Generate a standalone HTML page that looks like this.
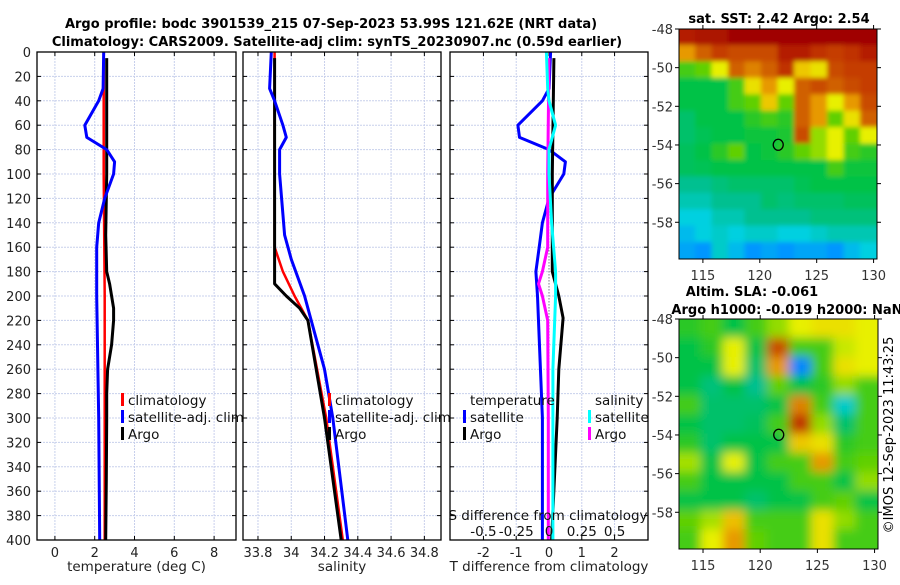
<!DOCTYPE html>
<html><head><meta charset="utf-8"><style>
html,body{margin:0;padding:0;background:#fff;}
svg text{font-family:"DejaVu Sans","Liberation Sans",sans-serif;}
</style></head><body>
<svg id="fig" width="900" height="580" xmlns="http://www.w3.org/2000/svg">
<defs>
<filter id="blur1" x="679" y="29" width="198" height="230" filterUnits="userSpaceOnUse"><feGaussianBlur stdDeviation="2.5"/></filter>
<filter id="blur2" x="679" y="319" width="199" height="230" filterUnits="userSpaceOnUse"><feGaussianBlur stdDeviation="5"/></filter>
<clipPath id="clipm1"><rect x="679" y="29" width="198" height="230"/></clipPath>
<clipPath id="clipm2"><rect x="679" y="319" width="199" height="230"/></clipPath>
</defs>
<g id="titles">
<text x="331" y="28" font-size="13" font-weight="bold" text-anchor="middle">Argo profile: bodc 3901539_215 07-Sep-2023 53.99S 121.62E (NRT data)</text>
<text x="337" y="46" font-size="13" font-weight="bold" text-anchor="middle">Climatology: CARS2009. Satellite-adj clim: synTS_20230907.nc (0.59d earlier)</text>
<text x="779" y="23" font-size="13" font-weight="bold" text-anchor="middle">sat. SST: 2.42 Argo: 2.54</text>
<text x="752" y="296" font-size="13" font-weight="bold" text-anchor="middle">Altim. SLA: -0.061</text>
<text x="787" y="314" font-size="13" font-weight="bold" text-anchor="middle">Argo h1000: -0.019 h2000: NaN</text>
<text transform="translate(893,435) rotate(-90)" font-size="13" text-anchor="middle">©IMOS 12-Sep-2023 11:43:25</text>
</g>
<g id="panels"></g>
<g id="maps"></g>
</svg>
<script>
// ---------- profile data ----------
const depthTicks = [0,20,40,60,80,100,120,140,160,180,200,220,240,260,280,300,320,340,360,380,400];
const tempTicks = [0,2,4,6,8];
const salTicks = [33.8,34,34.2,34.4,34.6,34.8];
const salTickLabels = ["33.8","34","34.2","34.4","34.6","34.8"];
const tdiffTicks = [-2,-1,0,1,2];
const sdiffTicks = [-0.5,-0.25,0,0.25,0.5];

const tArgoDepth = [5,50,100,150,180,190,200,210,220,240,260,280,300,350,400];
const tArgo      = [2.6,2.6,2.6,2.55,2.6,2.75,2.85,2.95,2.95,2.85,2.65,2.6,2.6,2.58,2.55];
const tClimDepth = [0,100,200,300,400];
const tClim      = [2.45,2.45,2.5,2.5,2.5];
const tSatDepth  = [0,30,40,60,70,80,90,100,120,140,160,200,300,400];
const tSat       = [2.45,2.42,2.2,1.5,1.6,2.6,3.0,2.95,2.5,2.2,2.1,2.1,2.2,2.25];

const sArgoDepth = [5,100,160,190,200,210,220,300,400];
const sArgo      = [33.9,33.9,33.9,33.9,33.97,34.05,34.1,34.2,34.3];
const sClimDepth = [0,160,180,200,220,300,400];
const sClim      = [33.9,33.9,33.95,34.02,34.1,34.21,34.31];
const sSatDepth  = [0,30,40,60,70,80,100,150,170,200,220,260,300,400];
const sSat       = [33.88,33.87,33.9,33.95,33.97,33.93,33.93,33.96,34.0,34.08,34.12,34.2,34.25,34.34];

const dTSatDepth = [0,30,40,60,70,80,90,100,120,140,160,180,200,300,400];
const dTSat      = [0.05,0.0,-0.2,-0.95,-0.9,0.0,0.5,0.45,0.0,-0.2,-0.3,-0.4,-0.35,-0.2,-0.2];
const dTArgoDepth = [5,100,180,200,218,260,300,400];
const dTArgo      = [0.15,0.1,0.1,0.3,0.43,0.3,0.25,0.08];
const dSSatDepth = [0,30,40,60,80,100,140,180,200,260,300,400];
const dSSat      = [-0.02,-0.01,0.0,0.05,0.0,0.0,0.02,0.05,0.05,0.03,0.03,0.03];
const dSArgoDepth = [5,100,160,180,190,200,220,300,400];
const dSArgo      = [0.0,-0.01,-0.01,-0.05,-0.08,-0.05,-0.01,-0.005,-0.005];

// ---------- map data ----------
const sstGrid = [
[0.95,0.97,0.97,1,1,1,1,1,1,1,1,1],
[0.8,0.85,0.9,0.88,0.88,0.88,0.95,0.95,0.92,0.9,0.92,0.95],
[0.6,0.62,0.7,0.85,0.82,0.85,0.92,0.75,0.72,0.88,0.9,0.9],
[0.55,0.55,0.55,0.6,0.72,0.8,0.7,0.85,0.88,0.85,0.88,0.9],
[0.55,0.55,0.55,0.6,0.62,0.75,0.62,0.85,0.8,0.7,0.8,0.88],
[0.5,0.55,0.55,0.55,0.58,0.6,0.58,0.85,0.8,0.62,0.72,0.85],
[0.5,0.53,0.55,0.55,0.56,0.56,0.57,0.88,0.65,0.7,0.62,0.7],
[0.52,0.55,0.58,0.62,0.55,0.56,0.58,0.62,0.65,0.7,0.6,0.58],
[0.52,0.53,0.55,0.55,0.55,0.55,0.55,0.55,0.55,0.6,0.56,0.56],
[0.45,0.45,0.48,0.5,0.5,0.5,0.5,0.53,0.55,0.55,0.55,0.55],
[0.42,0.42,0.45,0.45,0.45,0.5,0.48,0.5,0.5,0.5,0.52,0.52],
[0.38,0.38,0.42,0.42,0.45,0.45,0.45,0.45,0.48,0.48,0.48,0.48],
[0.35,0.38,0.4,0.38,0.4,0.4,0.38,0.38,0.4,0.42,0.42,0.42],
[0.32,0.3,0.4,0.35,0.3,0.32,0.3,0.32,0.32,0.3,0.35,0.38]];
const slaGrid = [
[0.58,0.6,0.55,0.6,0.65,0.7,0.72,0.72,0.7],
[0.55,0.58,0.7,0.55,0.88,0.6,0.6,0.68,0.7],
[0.55,0.55,0.7,0.5,0.8,0.25,0.6,0.72,0.7],
[0.55,0.48,0.55,0.45,0.62,0.55,0.58,0.65,0.6],
[0.6,0.5,0.5,0.5,0.55,0.82,0.6,0.4,0.6],
[0.55,0.5,0.5,0.52,0.6,0.92,0.65,0.5,0.6],
[0.58,0.5,0.55,0.55,0.55,0.75,0.72,0.58,0.6],
[0.66,0.55,0.7,0.55,0.6,0.6,0.8,0.6,0.62],
[0.6,0.55,0.55,0.55,0.55,0.6,0.6,0.55,0.65],
[0.55,0.55,0.55,0.5,0.55,0.55,0.6,0.62,0.55],
[0.62,0.66,0.76,0.6,0.6,0.6,0.72,0.65,0.6],
[0.6,0.7,0.8,0.62,0.6,0.6,0.72,0.6,0.6]];
const lonTicks = [115,120,125,130];
const latTicks = [-48,-50,-52,-54,-56,-58];
const argoLon = 121.62, argoLat = -53.99;

const NS = "http://www.w3.org/2000/svg";
function mk(tag, attrs, parent){const e=document.createElementNS(NS,tag);for(const k in attrs)e.setAttribute(k,attrs[k]);parent.appendChild(e);return e;}
const panels = document.getElementById('panels');
const Y0=52, Y1=540;
const yScale = d => Y0 + (Y1-Y0)*d/400;

function panel(name, x0, x1, dmin, dmax, ticks, labels, xlabel, showY){
  const xs = v => x0 + (x1-x0)*(v-dmin)/(dmax-dmin);
  const g = mk('g',{},panels);
  
  
  depthTicks.forEach(d=>{ if(d>0&&d<400){const l=mk('line',{x1:x0,x2:x1,y1:yScale(d),y2:yScale(d),stroke:'#c8d0ec','stroke-width':1,'stroke-dasharray':'2,1'},g);
     }});
  ticks.forEach(t=>{const x=xs(t);const l=mk('line',{x1:x,x2:x,y1:Y0,y2:Y1,stroke:'#c8d0ec','stroke-width':1,'stroke-dasharray':'2,1'},g);
     });
  depthTicks.forEach(d=>{const y=yScale(d);
    mk('line',{x1:x0,x2:x0+4,y1:y,y2:y,stroke:'#000'},g); mk('line',{x1:x1-4,x2:x1,y1:y,y2:y,stroke:'#000'},g);
    if(showY){const t=mk('text',{x:x0-6,y:y+5,'font-size':13,'text-anchor':'end',fill:'#222'},g);t.textContent=d;
       }});
  ticks.forEach((v,i)=>{const x=xs(v);
    mk('line',{x1:x,x2:x,y1:Y1,y2:Y1-4,stroke:'#000'},g); mk('line',{x1:x,x2:x,y1:Y0,y2:Y0+4,stroke:'#000'},g);
    const t=mk('text',{x:x,y:Y1+17,'font-size':13,'text-anchor':'middle',fill:'#222'},g);t.textContent=labels[i];
     });
  const xl=mk('text',{x:(x0+x1)/2,y:571,'font-size':13.5,'text-anchor':'middle',fill:'#222'},g); xl.textContent=xlabel;
   
  return {g,xs};
}
function line(p, depths, vals, color, w, name, mult){
  mult = mult||1;
  const pts = depths.map((d,i)=>p.xs(vals[i]*mult).toFixed(1)+','+yScale(d).toFixed(1)).join(' ');
  const l = mk('polyline',{points:pts,fill:'none',stroke:color,'stroke-width':w,'stroke-linejoin':'round'},p.g);
  
  
}
function frame(p,x0,x1){const r=mk('rect',{x:x0,y:Y0,width:x1-x0,height:Y1-Y0,fill:'none',stroke:'#000','stroke-width':1.3},p.g);
   }
function legend(p, x, y, items){
  items.forEach((it,i)=>{
    const yy = y + i*17;
    mk('rect',{x:x,y:yy-12,width:3,height:13,fill:it[1]},p.g);
    const t=mk('text',{x:x+7,y:yy,'font-size':13.5,fill:'#111'},p.g); t.textContent=it[0];
     
  });
}

const p1 = panel('temperature-panel', 37, 236, -0.9, 9.1, tempTicks, tempTicks.map(String), 'temperature (deg C)', true);
line(p1, tClimDepth, tClim, '#ff0000', 2.5, 'climatology-temp-line');
line(p1, tArgoDepth, tArgo, '#000', 3, 'argo-temp-line');
line(p1, tSatDepth, tSat, '#0000ff', 3, 'satellite-temp-line');
legend(p1, 121, 405, [['climatology','#ff0000'],['satellite-adj. clim','#0000ff'],['Argo','#000']]);
frame(p1,37,236);

const p2 = panel('salinity-panel', 243, 441, 33.71, 34.9, salTicks, salTickLabels, 'salinity', false);
line(p2, sClimDepth, sClim, '#ff0000', 2.5, 'climatology-sal-line');
line(p2, sArgoDepth, sArgo, '#000', 3, 'argo-sal-line');
line(p2, sSatDepth, sSat, '#0000ff', 3, 'satellite-sal-line');
legend(p2, 328, 405, [['climatology','#ff0000'],['satellite-adj. clim','#0000ff'],['Argo','#000']]);
frame(p2,243,441);

const p3 = panel('difference-panel', 450, 648, -3.02, 3.02, tdiffTicks, tdiffTicks.map(String), 'T difference from climatology', false);
const zl=mk('line',{x1:p3.xs(0),x2:p3.xs(0),y1:yScale(160),y2:Y1,stroke:'#666','stroke-dasharray':'1,2'},p3.g);
 
line(p3, dTSatDepth, dTSat, '#0000ff', 3, 'temp-diff-satellite-line');
line(p3, dTArgoDepth, dTArgo, '#000', 3, 'temp-diff-argo-line');
line(p3, dSArgoDepth, dSArgo, '#ff00ff', 3, 'sal-diff-argo-line', 4);
line(p3, dSSatDepth, dSSat, '#00ffff', 3, 'sal-diff-satellite-line', 4);
(function(){
  const t1=mk('text',{x:470,y:405,'font-size':13.5,fill:'#111'},p3.g);t1.textContent='temperature';
   
  const t2=mk('text',{x:595,y:405,'font-size':13.5,fill:'#111'},p3.g);t2.textContent='salinity';
   
})();
legend(p3, 463, 422, [['satellite','#0000ff'],['Argo','#000']]);
legend(p3, 588, 422, [['satellite','#00ffff'],['Argo','#ff00ff']]);
(function(){
  const t=mk('text',{x:548,y:520,'font-size':13.5,'text-anchor':'middle',fill:'#111'},p3.g);t.textContent='S difference from climatology';
   
  sdiffTicks.forEach(v=>{const s=mk('text',{x:p3.xs(v*4),y:536,'font-size':13.5,'text-anchor':'middle',fill:'#111'},p3.g);s.textContent=String(v);
     });
})();
frame(p3,450,648);

// ---------- maps ----------
const stops=[[0,[0,48,255]],[0.3,[0,150,255]],[0.38,[0,208,224]],[0.45,[0,192,144]],[0.55,[0,194,70]],[0.62,[96,208,0]],[0.7,[232,240,0]],[0.78,[240,176,0]],[0.85,[208,96,0]],[0.92,[192,48,0]],[1,[160,0,0]]];
function cmap(v){for(let i=1;i<stops.length;i++){if(v<=stops[i][0]){const a=stops[i-1],b=stops[i];const f=(v-a[0])/(b[0]-a[0]);
  const c=a[1].map((x,k)=>Math.round(x+(b[1][k]-x)*f));return 'rgb('+c.join(',')+')';}}return 'rgb(160,0,0)';}
const maps=document.getElementById('maps');
function drawMap(name, grid, X0, Y0m, W, H, blurId, clipId){
  const lon0=112.9, lon1=130.3, lat0=-48, lat1=-59.9;
  const xs=l=>X0+W*(l-lon0)/(lon1-lon0), ys=l=>Y0m+H*(l-lat0)/(lat1-lat0);
  const g=mk('g',{},maps);
  
  
  const cg=mk('g',{'clip-path':'url(#'+clipId+')'},g);
  mk('rect',{x:X0,y:Y0m,width:W,height:H,fill:cmap(0.55)},cg);
  const bg=mk('g',{filter:'url(#'+blurId+')'},cg);
  const nr=grid.length, nc=grid[0].length;
  const cw=W/nc, ch=H/nr;
  grid.forEach((row,r)=>row.forEach((v,c)=>{
    const cell=mk('rect',{x:X0+c*cw-0.5-(c==0?10:0),y:Y0m+r*ch-0.5-(r==0?10:0),width:cw+1+(c==0||c==nc-1?10:0),height:ch+1+(r==0||r==nr-1?10:0),fill:cmap(v)},bg);
    
    
  }));
  const fr=mk('rect',{x:X0,y:Y0m,width:W,height:H,fill:'none',stroke:'#000','stroke-width':1},g);
   
  latTicks.forEach(l=>{const y=ys(l);mk('line',{x1:X0-4,x2:X0,y1:y,y2:y,stroke:'#000'},g);mk('line',{x1:X0+W,x2:X0+W+4,y1:y,y2:y,stroke:'#000'},g);
    const t=mk('text',{x:X0-6,y:y+5,'font-size':13,'text-anchor':'end',fill:'#333'},g);t.textContent=l;
     });
  lonTicks.forEach(l=>{const x=xs(l);mk('line',{x1:x,x2:x,y1:Y0m+H,y2:Y0m+H+4,stroke:'#000'},g);mk('line',{x1:x,x2:x,y1:Y0m-4,y2:Y0m,stroke:'#000'},g);
    const t=mk('text',{x:x,y:Y0m+H+21,'font-size':13,'text-anchor':'middle',fill:'#333'},g);t.textContent=l;
     });
  const m=mk('ellipse',{cx:xs(argoLon),cy:ys(argoLat),rx:5,ry:5.5,fill:'none',stroke:'#000','stroke-width':1.3},g);
   
}
drawMap('sst-map', sstGrid, 679, 29, 198, 230, 'blur1', 'clipm1');
drawMap('sla-map', slaGrid, 679, 319, 199, 230, 'blur2', 'clipm2');
</script>
</body></html>
